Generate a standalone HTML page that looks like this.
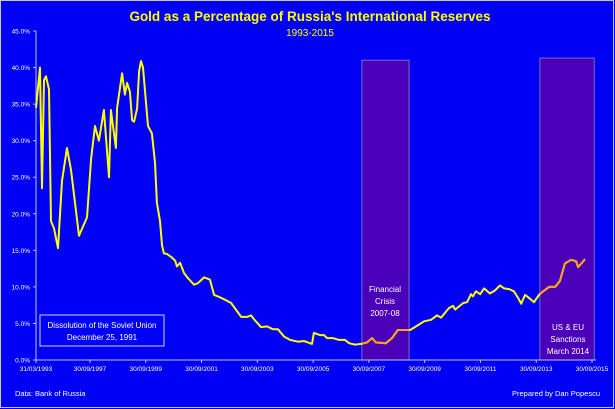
<!DOCTYPE html>
<html><head><meta charset="utf-8"><style>
html,body{margin:0;padding:0;background:#0000f0;}
svg{display:block;font-family:"Liberation Sans",sans-serif;}
</style></head><body>
<svg width="615" height="409" viewBox="0 0 615 409">
<rect x="0" y="0" width="615" height="409" fill="#0000f5"/>
<rect x="0.5" y="0.5" width="613" height="407" fill="none" stroke="#c8c8d8" stroke-width="1"/>
<text x="310" y="21" text-anchor="middle" fill="#ffff00" font-size="13.5" font-weight="bold">Gold as a Percentage of Russia's International Reserves</text>
<text x="310" y="36" text-anchor="middle" fill="#ffff00" font-size="10">1993-2015</text>
<g id="boxes"></g>
<g id="axes"></g>
<g id="series"></g>
<rect x="40" y="315" width="124" height="31" fill="none" stroke="#d0d0ff" stroke-width="1"/>
<text x="102" y="328" text-anchor="middle" fill="#fff" font-size="8">Dissolution of the Soviet Union</text>
<text x="102" y="340" text-anchor="middle" fill="#fff" font-size="8">December 25, 1991</text>
<text x="385" y="292" text-anchor="middle" fill="#fff" font-size="8">Financial</text>
<text x="385" y="304" text-anchor="middle" fill="#fff" font-size="8">Crisis</text>
<text x="385" y="316" text-anchor="middle" fill="#fff" font-size="8">2007-08</text>
<text x="568" y="330" text-anchor="middle" fill="#fff" font-size="8">US &amp; EU</text>
<text x="568" y="342" text-anchor="middle" fill="#fff" font-size="8">Sanctions</text>
<text x="568" y="354" text-anchor="middle" fill="#fff" font-size="8">March 2014</text>
<text x="15" y="396" fill="#fff" font-size="7.5">Data: Bank of Russia</text>
<text x="600" y="396" text-anchor="end" fill="#fff" font-size="7.5">Prepared by Dan Popescu</text>
</svg>
<script>
const years=[1993.25,1993.58,1993.75,1993.92,1994.08,1994.33,1994.5,1994.75,1995.08,1995.42,1995.83,1996.17,1996.83,1997.5,1997.79,1997.93,1998.07,1998.25,1998.43,1998.5,1998.68,1998.72,1998.9,1999.0,1999.08,1999.18,1999.26,1999.33,1999.44,1999.51,1999.58,1999.65,1999.79,1999.83,1999.97,2000.08,2000.15,2000.26,2000.33,2000.4,2000.51,2000.69,2000.8,2000.87,2000.98,2001.12,2001.26,2001.48,2001.62,2001.84,2002.05,2002.2,2002.34,2002.56,2002.81,2003.17,2003.38,2003.52,2003.67,2003.88,2004.1,2004.31,2004.49,2004.71,2004.92,2005.21,2005.42,2005.64,2005.71,2005.78,2006.0,2006.14,2006.25,2006.46,2006.68,2006.89,2007.04,2007.25,2007.47,2007.68,2007.86,2008.0,2008.36,2008.58,2008.79,2009.01,2009.23,2009.44,2009.73,2009.98,2010.19,2010.34,2010.62,2010.77,2010.84,2011.13,2011.27,2011.41,2011.48,2011.59,2011.74,2011.88,2012.09,2012.27,2012.45,2012.6,2012.78,2012.95,2013.1,2013.21,2013.35,2013.49,2013.67,2013.85,2014.0,2014.21,2014.43,2014.6,2014.78,2015.0,2015.18,2015.25,2015.39,2015.5];
const goldPct=[34.5,40,23.5,38.3,38.8,37,19,18,15.3,24.5,29,26,17,19.5,27.5,32,30,34.2,25,34.2,29,34.5,39.2,36.3,37.9,36.7,32.8,32.6,34.4,39.5,40.9,40,33.8,32,31,27,21.5,19,15.7,14.6,14.5,14,13.6,12.8,13.3,11.9,11.2,10.3,10.5,11.3,11,8.9,8.7,8.3,7.8,5.9,5.9,6.1,5.4,4.5,4.6,4.2,4.2,3.2,2.75,2.5,2.6,2.3,2.2,3.7,3.4,3.4,3,3,2.75,2.75,2.3,2.1,2.2,2.4,3,2.4,2.3,3,4.1,4.1,4.1,4.6,5.3,5.5,6.1,5.8,7.1,7.4,6.9,7.8,7.9,9,8.7,9.4,9,9.8,9.1,9.5,10.2,9.8,9.7,9.4,8.5,7.7,8.9,8.5,7.9,8.9,9.4,10,10,10.8,13.2,13.7,13.5,12.7,13.3,13.8];
const yTicks=[0,5,10,15,20,25,30,35,40,45];
const xTickYears=[1993.25,1997.75,1999.75,2001.75,2003.75,2005.75,2007.75,2009.75,2011.75,2013.75,2015.75];
const xTickLabels=["31/03/1993","30/09/1997","30/09/1999","30/09/2001","30/09/2003","30/09/2005","30/09/2007","30/09/2009","30/09/2011","30/09/2013","30/09/2015"];
const shadeStart=[2007.5,2013.88];
const shadeEnd=[2009.19,2015.83];
const shadeTop=[41,41.3];

const NS="http://www.w3.org/2000/svg";
const X0=36,XB=90,XR=592,Y0=360,YT=31;
function xs(yr){return yr<1997.75?X0+(yr-1993.25)/(1997.75-1993.25)*(XB-X0):XB+(yr-1997.75)/(2015.75-1997.75)*(XR-XB);}
function ys(v){return Y0-v/45*(Y0-YT);}
function mk(tag,attrs,parent){const e=document.createElementNS(NS,tag);for(const k in attrs)e.setAttribute(k,attrs[k]);parent.appendChild(e);return e;}
const svg=document.querySelector('svg');
const boxes=document.getElementById('boxes'),axes=document.getElementById('axes'),series=document.getElementById('series');
const defs=mk('defs',{},svg);
const clip=mk('clipPath',{id:'shadeclip'},defs);
shadeStart.forEach((s,i)=>{
  const r=mk('rect',{x:xs(s),y:ys(shadeTop[i]),width:xs(shadeEnd[i])-xs(s),height:Y0-ys(shadeTop[i]),fill:'#4a00b8',stroke:'#7070b8','stroke-width':1},boxes);
  
  
  mk('rect',{x:xs(s),y:ys(shadeTop[i]),width:xs(shadeEnd[i])-xs(s),height:Y0-ys(shadeTop[i])},clip);
});
const ya=mk('line',{x1:X0,y1:YT,x2:X0,y2:Y0,stroke:'#c0c0ff','stroke-width':1},axes);


const xa=mk('line',{x1:X0,y1:Y0,x2:596,y2:Y0,stroke:'#c0c0ff','stroke-width':1},axes);


yTicks.forEach(v=>{
  mk('line',{x1:X0-3,y1:ys(v),x2:X0,y2:ys(v),stroke:'#c0c0ff'},axes);
  const t=mk('text',{x:X0-6,y:ys(v)+2.5,'text-anchor':'end',fill:'#fff','font-size':'6.5'},axes);
  t.textContent=v.toFixed(1)+'%';
  
  
});
xTickYears.forEach((yr,i)=>{
  mk('line',{x1:xs(yr),y1:Y0,x2:xs(yr),y2:Y0+3,stroke:'#c0c0ff'},axes);
  const t=mk('text',{x:xs(yr),y:Y0+11,'text-anchor':'middle',fill:'#fff','font-size':'6.5'},axes);
  t.textContent=xTickLabels[i];
  
  
});
const d=years.map((yr,i)=>(i?'L':'M')+xs(yr).toFixed(1)+','+ys(goldPct[i]).toFixed(1)).join('');
const line=mk('path',{d:d,fill:'none',stroke:'#ffff00','stroke-width':2,'stroke-linejoin':'round'},series);


const line2=mk('path',{d:d,fill:'none',stroke:'#ffa020','stroke-width':2,'stroke-linejoin':'round','clip-path':'url(#shadeclip)'},series);


</script>
</body></html>
